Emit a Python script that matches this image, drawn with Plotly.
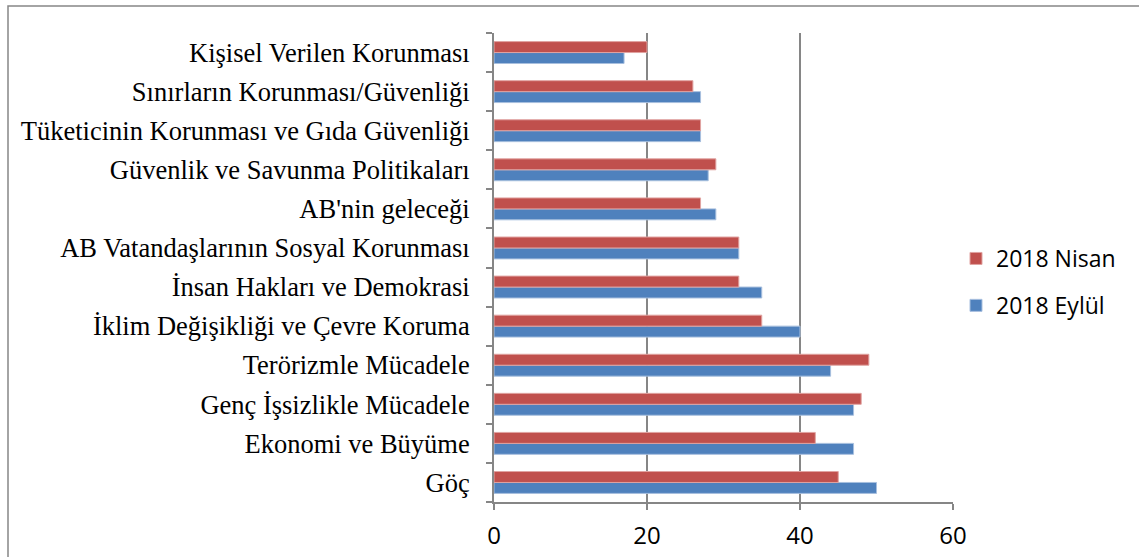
import plotly.graph_objects as go

categories = ["Göç", "Ekonomi ve Büyüme", "Genç İşsizlikle Mücadele", "Terörizmle Mücadele",
              "İklim Değişikliği ve Çevre Koruma", "İnsan Hakları ve Demokrasi",
              "AB Vatandaşlarının Sosyal Korunması", "AB'nin geleceği",
              "Güvenlik ve Savunma Politikaları", "Tüketicinin Korunması ve Gıda Güvenliği",
              "Sınırların Korunması/Güvenliği", "Kişisel Verilen Korunması"]
nisan = [45, 42, 48, 49, 35, 32, 32, 27, 29, 27, 26, 20]
eylul = [50, 47, 47, 44, 40, 35, 32, 29, 28, 27, 27, 17]
x_ticks = [0, 20, 40, 60]

RED = "#C0504D"
BLUE = "#4F81BD"
GRAY = "#868686"

fig = go.Figure()
fig.add_trace(go.Bar(y=categories, x=eylul, orientation="h", name="2018 Eylül",
                     marker=dict(color=BLUE, line=dict(color="#A7BFDE", width=1)),
                     legendgroup="e", legendrank=2))
fig.add_trace(go.Bar(y=categories, x=nisan, orientation="h", name="2018 Nisan",
                     marker=dict(color=RED, line=dict(color="#E0A3A1", width=1)),
                     legendgroup="n", legendrank=1))

L, R, T, B = 494, 953, 33, 502
W, H = 1139, 557
pw, ph = R - L, B - T

fig.update_layout(
    width=W, height=H,
    margin=dict(l=L, r=W - R, t=T, b=H - B, autoexpand=False),
    paper_bgcolor="white", plot_bgcolor="white",
    barmode="group", bargap=0.44, bargroupgap=0,
    showlegend=True,
    legend=dict(x=(956 - L) / pw, y=(B - 282) / ph, xanchor="left", yanchor="middle",
                traceorder="grouped", tracegroupgap=14,
                font=dict(family="Open Sans, Liberation Sans, sans-serif", size=23, color="black"),
                bgcolor="rgba(0,0,0,0)"),
    xaxis=dict(range=[0, 60], tickvals=x_ticks, ticktext=[str(v) for v in x_ticks],
               showgrid=True, gridcolor=GRAY, gridwidth=2,
               showline=True, linecolor=GRAY, linewidth=2,
               ticks="outside", ticklen=6, tickcolor=GRAY, tickwidth=2,
               zeroline=False, ticklabelstandoff=5,
               tickfont=dict(family="Open Sans, Liberation Sans, sans-serif", size=24, color="black"),
               fixedrange=True),
    yaxis=dict(categoryorder="array", categoryarray=categories,
               showline=True, linecolor=GRAY, linewidth=2,
               ticks="outside", ticklen=6, tickcolor=GRAY, tickwidth=2,
               tickson="boundaries", showgrid=False,
               tickfont=dict(family="Liberation Serif, Times New Roman, serif", size=26.5, color="black"),
               ticklabelstandoff=17,
               fixedrange=True),
)

# outer chart border
fig.add_shape(type="rect", xref="paper", yref="paper",
              x0=(8 - L) / pw, x1=(W + 10 - L) / pw,
              y0=(B - (H + 10)) / ph, y1=(B - 6) / ph,
              line=dict(color=GRAY, width=1.5), fillcolor="rgba(0,0,0,0)", layer="below")

fig.write_html("out.html", config={"displayModeBar": False},
               post_script="document.body.style.margin='0';")
